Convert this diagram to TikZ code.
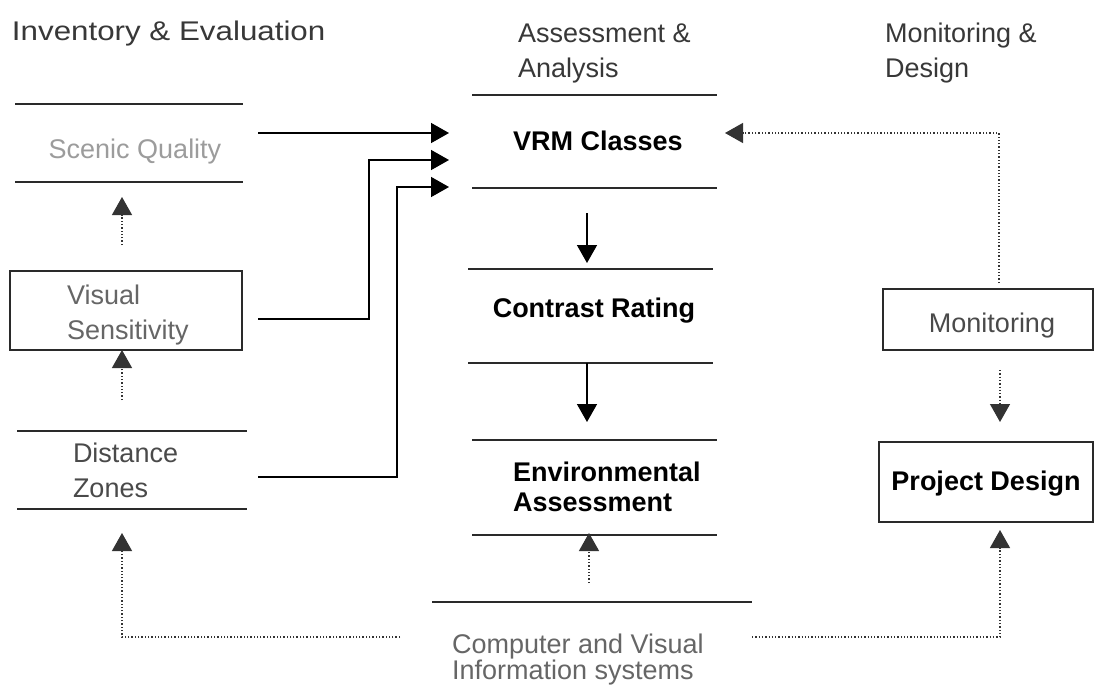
\documentclass[tikz,border=0pt]{standalone}
\usepackage{fontspec}
\setmainfont{Liberation Sans}
\usetikzlibrary{arrows.meta}

\definecolor{headgray}{HTML}{383838}
\definecolor{pale}{HTML}{9C9C9C}
\definecolor{midgray}{HTML}{666666}
\definecolor{darkgray}{HTML}{4A4A4A}
\definecolor{rulegray}{HTML}{2A2A2A}

\tikzset{
  block/.style={inner sep=0pt, outer sep=0pt},
  boxed/.style={block, draw=rulegray, line width=1.4pt},
  rule/.style={draw=rulegray, line width=1.4pt},
  lbl/.style={inner sep=0pt, outer sep=0pt, font=\fontsize{27}{35}\selectfont},
  strong/.style={lbl, font=\fontsize{27}{30}\selectfont\bfseries},
  flow/.style={draw=black, line width=1.5pt, -{Triangle[length=18pt,width=20pt]}},
  dotflow/.style={flow, draw=black!80, line width=1.3pt, dotted}
}

\begin{document}
\begin{tikzpicture}[x=1pt,y=-1pt]
\useasboundingbox[fill=white] (0,0) rectangle (1110,699);

% column headings (base anchor sits on the last line)
\node[lbl, text=headgray, anchor=base west] (h1) at (12,40) {\scalebox{1.16}[1]{Inventory \& Evaluation}};
\node[lbl, text=headgray, anchor=base west, align=left] (h2) at (518,77) {Assessment \&\\Analysis};
\node[lbl, text=headgray, anchor=base west, align=left] (h3) at (885,77) {Monitoring \&\\Design};

% left column
\node[block, minimum width=228pt, minimum height=78pt] (sq) at (129,143) {};
\draw[rule] (sq.north west) -- (sq.north east) (sq.south west) -- (sq.south east);
\node[lbl, text=pale, anchor=base] (sqt) at (135,158) {Scenic Quality};

\node[boxed, minimum width=232pt, minimum height=79pt] (vs) at (126,310.5) {};
\node[lbl, text=midgray, anchor=base west, align=left] (vst) at (67,339) {Visual\\Sensitivity};

\node[block, minimum width=230pt, minimum height=78pt] (dz) at (132,470) {};
\draw[rule] (dz.north west) -- (dz.north east) (dz.south west) -- (dz.south east);
\node[lbl, text=darkgray, anchor=base west, align=left] (dzt) at (73,497) {Distance\\Zones};

% middle column
\node[block, minimum width=245pt, minimum height=93pt] (vrm) at (594.5,141.5) {};
\draw[rule] (vrm.north west) -- (vrm.north east) (vrm.south west) -- (vrm.south east);
\node[strong, anchor=base] (vrmt) at (598,150) {VRM Classes};

\node[block, minimum width=245pt, minimum height=94pt] (cr) at (590.5,316) {};
\draw[rule] (cr.north west) -- (cr.north east) (cr.south west) -- (cr.south east);
\node[strong, anchor=base] (crt) at (594,317) {Contrast Rating};

\node[block, minimum width=245pt, minimum height=95pt] (ea) at (594.5,487.5) {};
\draw[rule] (ea.north west) -- (ea.north east) (ea.south west) -- (ea.south east);
\node[strong, anchor=base west, align=left] (eat) at (513,511) {Environmental\\Assessment};

\node[block, minimum width=320pt, minimum height=96pt] (cv) at (592,650) {};
\draw[rule] (cv.north west) -- (cv.north east);
\node[lbl, text=midgray, anchor=base west, align=left, font=\fontsize{27}{26}\selectfont] (cvt) at (452,679) {Computer and Visual\\Information systems};

% right column
\node[boxed, minimum width=210pt, minimum height=61pt] (mon) at (988,319.5) {};
\node[lbl, text=darkgray, anchor=base] (mont) at (992,332) {Monitoring};

\node[boxed, minimum width=214pt, minimum height=80pt] (pd) at (986,482) {};
\node[strong, anchor=base] (pdt) at (986,490) {Project Design};

% solid connectors into the classes
\draw[flow] ([xshift=15pt,yshift=10pt]sq.east) -- ([xshift=-23pt,yshift=8.5pt]vrm.west);
\draw[flow] ([xshift=16pt,yshift=-8.5pt]vs.east) -- ++(111,0) |- ([xshift=-23pt,yshift=-18.5pt]vrm.west);
\draw[flow] ([xshift=11pt,yshift=-7pt]dz.east) -- ++(139,0) |- ([xshift=-23pt,yshift=-45.5pt]vrm.west);
\draw[flow] ([xshift=-7.5pt,yshift=-25pt]vrm.south) -- ([xshift=-3.5pt,yshift=6pt]cr.north);
\draw[flow] ([xshift=-3.5pt]cr.south) -- ([xshift=-7.5pt,yshift=18pt]ea.north);

% dotted connectors
\draw[dotflow] ([xshift=-7pt,yshift=-63pt]sq.south) -- ([xshift=-7pt,yshift=-15pt]sq.south);
\draw[dotflow] ([xshift=-4pt,yshift=-50pt]vs.south) -- ([xshift=-4pt]vs.south);
\draw[dotflow] ([xshift=-32pt,yshift=-35pt]cv.north west) -| ([xshift=-10pt,yshift=-24pt]dz.south);
\draw[dotflow] ([yshift=-35pt]cv.north east) -| ([xshift=14pt,yshift=-8pt]pd.south);
\draw[dotflow] ([xshift=-3pt,yshift=19pt]cv.north) -- ([xshift=-5.5pt,yshift=2pt]ea.south);
\draw[dotflow] ([xshift=11pt,yshift=6pt]mon.north) |- ([xshift=8pt,yshift=8.5pt]vrm.east);
\draw[dotflow] ([xshift=12pt,yshift=-20pt]mon.south) -- ([xshift=14pt,yshift=20pt]pd.north);
\end{tikzpicture}
\end{document}
